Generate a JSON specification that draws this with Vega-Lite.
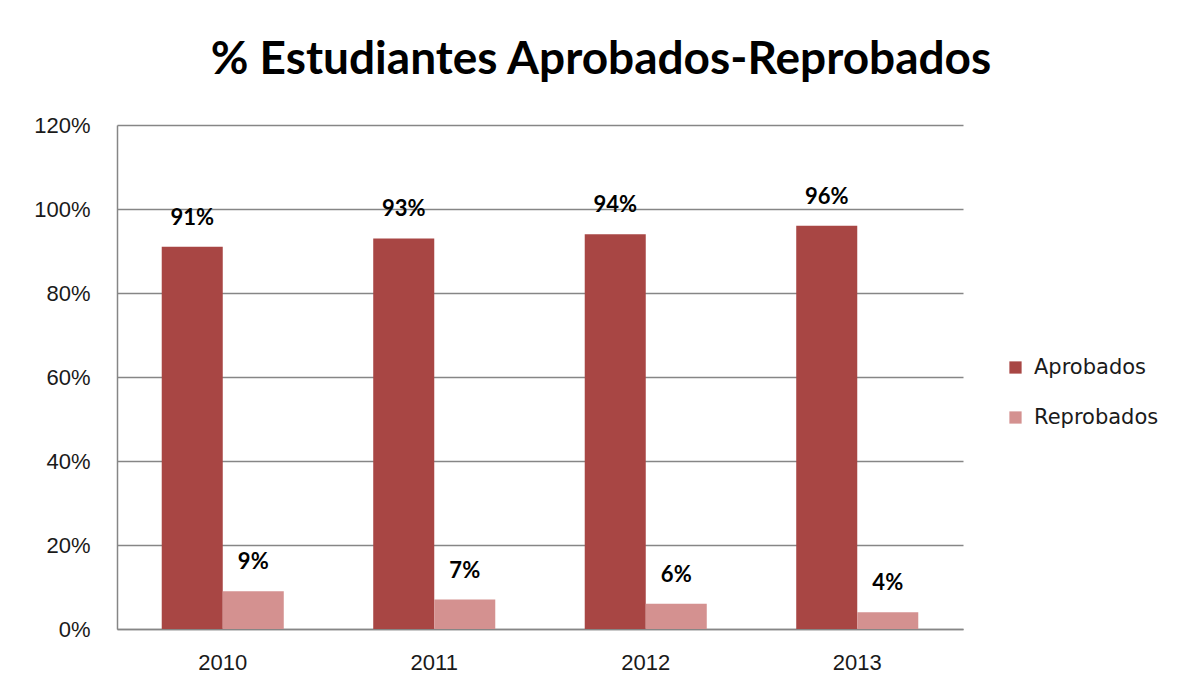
{
  "$schema": "https://vega.github.io/schema/vega-lite/v6.json",
  "width": 846,
  "height": 504,
  "autosize": {"type": "none"},
  "padding": {"left": 117, "top": 125, "right": 217, "bottom": 62},
  "background": "white",
  "title": {
    "text": "% Estudiantes Aprobados-Reprobados",
    "font": "Lato",
    "fontSize": 46,
    "fontWeight": "bold",
    "color": "#000000",
    "anchor": "middle",
    "dx": 61,
    "offset": 30
  },
  "data": {
    "values": [
      {"year": "2010", "tipo": "Aprobados", "valor": 0.91},
      {"year": "2010", "tipo": "Reprobados", "valor": 0.09},
      {"year": "2011", "tipo": "Aprobados", "valor": 0.93},
      {"year": "2011", "tipo": "Reprobados", "valor": 0.07},
      {"year": "2012", "tipo": "Aprobados", "valor": 0.94},
      {"year": "2012", "tipo": "Reprobados", "valor": 0.06},
      {"year": "2013", "tipo": "Aprobados", "valor": 0.96},
      {"year": "2013", "tipo": "Reprobados", "valor": 0.04}
    ]
  },
  "encoding": {
    "x": {
      "field": "year",
      "type": "nominal",
      "scale": {"paddingInner": 0.423, "paddingOuter": 0.2115},
      "axis": {
        "title": null,
        "labelAngle": 0,
        "ticks": false,
        "domainColor": "#868686",
        "domainWidth": 1.5,
        "labelFont": "Liberation Sans",
        "labelFontSize": 22,
        "labelColor": "#1a1a1a",
        "labelPadding": 23
      }
    },
    "xOffset": {"field": "tipo", "type": "nominal", "scale": {"padding": 0}},
    "y": {
      "field": "valor",
      "type": "quantitative",
      "scale": {"domain": [0, 1.2], "nice": false},
      "axis": {
        "title": null,
        "format": ".0%",
        "values": [0, 0.2, 0.4, 0.6, 0.8, 1.0, 1.2],
        "ticks": false,
        "grid": true,
        "gridColor": "#868686",
        "gridWidth": 1.5,
        "domainColor": "#868686",
        "domainWidth": 1.5,
        "labelFont": "Liberation Sans",
        "labelFontSize": 22,
        "labelColor": "#1a1a1a",
        "labelPadding": 27
      }
    }
  },
  "layer": [
    {
      "mark": {"type": "bar"},
      "encoding": {
        "color": {
          "field": "tipo",
          "type": "nominal",
          "scale": {"domain": ["Aprobados", "Reprobados"], "range": ["#A84644", "#D49190"]},
          "legend": {
            "title": null,
            "orient": "none",
            "legendX": 888,
            "legendY": 232,
            "symbolType": "square",
            "symbolSize": 150,
            "symbolStrokeWidth": 0,
            "labelFont": "DejaVu Sans",
            "labelFontSize": 21,
            "labelColor": "#1a1a1a",
            "labelOffset": 8,
            "rowPadding": 28
          }
        }
      }
    },
    {
      "mark": {
        "type": "text",
        "baseline": "bottom",
        "dy": -17,
        "font": "Lato",
        "fontSize": 22,
        "fontWeight": "bold",
        "color": "#000000"
      },
      "encoding": {
        "text": {"field": "valor", "type": "quantitative", "format": ".0%"}
      }
    }
  ],
  "config": {"view": {"stroke": null}}
}
